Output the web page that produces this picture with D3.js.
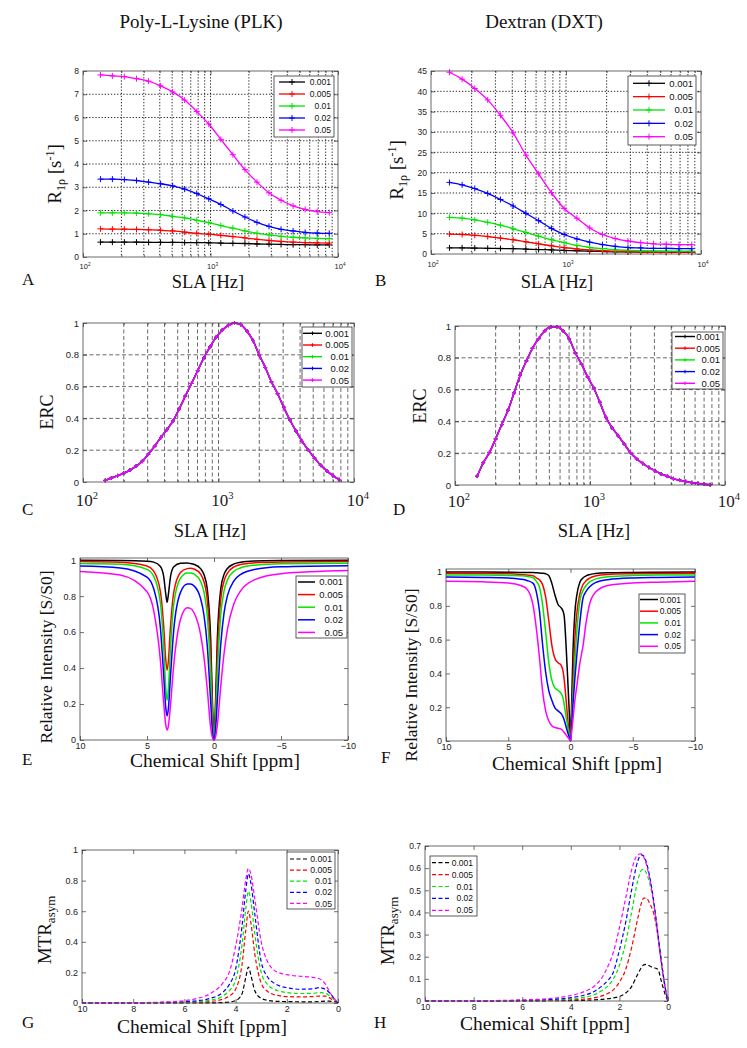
<!DOCTYPE html>
<html>
<head>
<meta charset="utf-8">
<script src="https://cdn.jsdelivr.net/npm/d3@7"></script>
<style>
  body { margin: 0; background: #fff; }
</style>
</head>
<body>
<svg id="fig" width="747" height="1048"></svg>
<script>
// ---- data ----
const concLabels = ["0.001", "0.005", "0.01", "0.02", "0.05"]
const lineColors = ["#000000", "#ff0000", "#00e600", "#0000ff", "#ff00ff"]

// spin-lock amplitude (Hz) for the R1rho panels
const slaHz = [137, 170, 211, 263, 327, 406, 505, 627, 780, 969, 1205, 1498, 1862, 2315, 2877, 3577, 4446, 5527, 6871, 8541]
const r1rhoPLK = [
  [0.64, 0.64, 0.64, 0.64, 0.63, 0.63, 0.63, 0.62, 0.62, 0.61, 0.60, 0.59, 0.58, 0.56, 0.55, 0.54, 0.53, 0.53, 0.52, 0.52],
  [1.21, 1.20, 1.20, 1.19, 1.17, 1.15, 1.12, 1.07, 1.02, 0.98, 0.93, 0.88, 0.82, 0.76, 0.71, 0.67, 0.64, 0.62, 0.61, 0.60],
  [1.90, 1.90, 1.90, 1.89, 1.86, 1.82, 1.75, 1.68, 1.58, 1.48, 1.35, 1.24, 1.12, 1.02, 0.95, 0.89, 0.85, 0.82, 0.80, 0.79],
  [3.35, 3.35, 3.33, 3.29, 3.22, 3.15, 3.06, 2.92, 2.73, 2.50, 2.26, 1.98, 1.72, 1.49, 1.32, 1.19, 1.12, 1.06, 1.03, 1.02],
  [7.83, 7.79, 7.76, 7.67, 7.56, 7.36, 7.10, 6.75, 6.26, 5.72, 5.06, 4.40, 3.76, 3.22, 2.76, 2.44, 2.20, 2.05, 1.95, 1.91]
]
const r1rhoDXT = [
  [1.5, 1.5, 1.45, 1.4, 1.35, 1.3, 1.2, 1.1, 1.0, 0.9, 0.8, 0.7, 0.62, 0.55, 0.5, 0.47, 0.45, 0.44, 0.43, 0.43],
  [4.9, 4.8, 4.6, 4.3, 3.9, 3.5, 3.0, 2.5, 2.0, 1.6, 1.25, 1.0, 0.8, 0.65, 0.55, 0.5, 0.47, 0.45, 0.44, 0.44],
  [9.0, 8.8, 8.4, 7.8, 7.1, 6.2, 5.3, 4.4, 3.5, 2.8, 2.1, 1.6, 1.3, 1.05, 0.9, 0.8, 0.75, 0.72, 0.7, 0.7],
  [17.6, 17.0, 16.1, 14.9, 13.4, 11.8, 10.0, 8.2, 6.3, 4.8, 3.7, 2.9, 2.3, 1.9, 1.6, 1.5, 1.4, 1.4, 1.3, 1.3],
  [44.7, 43.0, 40.7, 37.9, 34.1, 29.8, 24.3, 19.7, 15.1, 11.2, 8.8, 6.4, 4.8, 3.8, 3.2, 2.8, 2.5, 2.4, 2.3, 2.3]
]

// exchange rate contrast, all concentrations collapse onto one curve
const ercHz = [146, 162, 180, 200, 222, 247, 274, 304, 338, 375, 416, 462, 513, 569, 632, 702, 779, 865, 960, 1066,
  1183, 1313, 1458, 1619, 1797, 1995, 2215, 2459, 2730, 3031, 3365, 3736, 4148, 4605, 5112, 5675, 6301, 6995, 7763]
const ercPLK = [0.01, 0.025, 0.04, 0.055, 0.075, 0.10, 0.13, 0.175, 0.225, 0.28, 0.33, 0.385, 0.46, 0.54, 0.62, 0.70, 0.78, 0.85, 0.91, 0.955,
  0.985, 1.0, 0.99, 0.95, 0.89, 0.80, 0.72, 0.63, 0.555, 0.47, 0.39, 0.32, 0.255, 0.20, 0.15, 0.105, 0.07, 0.04, 0.015]
const ercDXT = [0.055, 0.14, 0.205, 0.29, 0.38, 0.47, 0.58, 0.69, 0.78, 0.86, 0.92, 0.97, 0.995, 0.995, 0.97, 0.92, 0.83, 0.76, 0.68, 0.61,
  0.52, 0.425, 0.36, 0.31, 0.257, 0.203, 0.165, 0.135, 0.11, 0.09, 0.07, 0.055, 0.04, 0.03, 0.022, 0.015, 0.01, 0.005, 0.002]

// Z-spectra
const zShiftPLK = [10, 7, 5, 4.5, 4, 3.75, 3.6, 3.5, 3.4, 3.25, 3, 2.5, 2, 1.75, 1.5, 1, 0.75, 0.5, 0.25, 0.1, 0, -0.1, -0.25, -0.5, -0.75, -1, -1.5, -2, -3, -5, -10]
const zPLK = [
  [0.999, 0.998, 0.994, 0.989, 0.965, 0.907, 0.812, 0.766, 0.812, 0.906, 0.963, 0.983, 0.984, 0.981, 0.977, 0.953, 0.92, 0.838, 0.564, 0.171, 0, 0.171, 0.564, 0.838, 0.921, 0.954, 0.979, 0.988, 0.995, 0.998, 1.0],
  [0.992, 0.988, 0.967, 0.939, 0.825, 0.627, 0.446, 0.388, 0.445, 0.626, 0.822, 0.931, 0.953, 0.955, 0.951, 0.922, 0.88, 0.777, 0.473, 0.124, 0, 0.124, 0.474, 0.779, 0.883, 0.927, 0.963, 0.976, 0.985, 0.99, 0.993],
  [0.982, 0.977, 0.949, 0.911, 0.762, 0.511, 0.288, 0.22, 0.287, 0.508, 0.757, 0.90, 0.929, 0.929, 0.923, 0.882, 0.823, 0.69, 0.366, 0.082, 0, 0.088, 0.367, 0.694, 0.829, 0.89, 0.939, 0.958, 0.972, 0.98, 0.983],
  [0.967, 0.957, 0.906, 0.841, 0.624, 0.354, 0.18, 0.134, 0.178, 0.35, 0.615, 0.821, 0.867, 0.868, 0.858, 0.786, 0.696, 0.521, 0.216, 0.034, 0, 0.046, 0.219, 0.528, 0.707, 0.801, 0.886, 0.921, 0.948, 0.963, 0.969],
  [0.937, 0.917, 0.824, 0.719, 0.442, 0.202, 0.084, 0.056, 0.08, 0.191, 0.42, 0.67, 0.735, 0.732, 0.709, 0.586, 0.462, 0.282, 0.07, 0.01, 0, 0.012, 0.084, 0.294, 0.481, 0.614, 0.761, 0.831, 0.89, 0.925, 0.942]
]
const zShiftDXT = [10, 7, 5, 4, 3.5, 3, 2.75, 2.5, 2.25, 2, 1.75, 1.5, 1.25, 1, 0.75, 0.6, 0.5, 0.35, 0.2, 0.1, 0, -0.1, -0.2, -0.35, -0.5, -0.75, -1, -1.25, -1.5, -2, -3, -5, -7, -10]
const zDXT = [
  [1.0, 1.0, 0.999, 0.998, 0.997, 0.997, 0.996, 0.995, 0.993, 0.99, 0.98, 0.933, 0.864, 0.808, 0.788, 0.768, 0.735, 0.557, 0.33, 0.172, 0, 0.25, 0.53, 0.76, 0.86, 0.94, 0.965, 0.977, 0.984, 0.991, 0.996, 0.998, 0.999, 1.0],
  [0.993, 0.992, 0.99, 0.986, 0.982, 0.978, 0.966, 0.954, 0.927, 0.854, 0.716, 0.567, 0.488, 0.463, 0.448, 0.413, 0.36, 0.241, 0.112, 0.053, 0, 0.17, 0.35, 0.6, 0.75, 0.87, 0.925, 0.948, 0.962, 0.977, 0.986, 0.99, 0.992, 0.993],
  [0.983, 0.982, 0.98, 0.978, 0.975, 0.966, 0.946, 0.913, 0.81, 0.646, 0.468, 0.36, 0.314, 0.30, 0.28, 0.255, 0.212, 0.143, 0.074, 0.038, 0, 0.13, 0.28, 0.47, 0.64, 0.83, 0.89, 0.92, 0.94, 0.958, 0.972, 0.979, 0.982, 0.983],
  [0.97, 0.968, 0.965, 0.958, 0.95, 0.933, 0.884, 0.775, 0.577, 0.41, 0.30, 0.241, 0.196, 0.178, 0.162, 0.143, 0.123, 0.083, 0.044, 0.024, 0, 0.1, 0.22, 0.37, 0.5, 0.70, 0.845, 0.885, 0.91, 0.937, 0.955, 0.965, 0.968, 0.97],
  [0.945, 0.942, 0.935, 0.92, 0.9, 0.8, 0.67, 0.5, 0.3, 0.18, 0.12, 0.09, 0.08, 0.075, 0.07, 0.06, 0.05, 0.035, 0.02, 0.01, 0, 0.06, 0.13, 0.24, 0.32, 0.46, 0.56, 0.70, 0.80, 0.88, 0.92, 0.935, 0.94, 0.945]
]

// MTR asymmetry
const mtrShiftPLK = [10, 8, 7, 6, 5.5, 5, 4.5, 4.25, 4, 3.75, 3.6, 3.5, 3.4, 3.25, 3, 2.75, 2.5, 2.25, 2, 1.5, 1, 0.75, 0.5, 0.35, 0.2, 0.1, 0]
const mtrPLK = [
  [0, 0, 0, 0, 0.001, 0.001, 0.003, 0.006, 0.015, 0.06, 0.17, 0.235, 0.18, 0.08, 0.03, 0.018, 0.012, 0.01, 0.009, 0.008, 0.008, 0.009, 0.012, 0.012, 0.01, 0.008, 0],
  [0, 0, 0.001, 0.003, 0.005, 0.01, 0.025, 0.045, 0.09, 0.25, 0.48, 0.6, 0.52, 0.32, 0.13, 0.075, 0.055, 0.047, 0.042, 0.04, 0.042, 0.045, 0.045, 0.035, 0.02, 0.01, 0],
  [0, 0, 0.002, 0.005, 0.009, 0.018, 0.045, 0.08, 0.15, 0.38, 0.62, 0.73, 0.66, 0.45, 0.2, 0.12, 0.09, 0.075, 0.068, 0.062, 0.063, 0.068, 0.065, 0.05, 0.03, 0.012, 0],
  [0, 0.001, 0.003, 0.008, 0.015, 0.03, 0.07, 0.12, 0.22, 0.5, 0.74, 0.845, 0.78, 0.58, 0.27, 0.17, 0.13, 0.11, 0.1, 0.09, 0.092, 0.1, 0.09, 0.07, 0.04, 0.015, 0],
  [0, 0.002, 0.005, 0.015, 0.03, 0.06, 0.13, 0.2, 0.37, 0.62, 0.81, 0.88, 0.84, 0.68, 0.40, 0.27, 0.215, 0.195, 0.185, 0.175, 0.168, 0.16, 0.125, 0.08, 0.04, 0.02, 0]
]
const mtrShiftDXT = [10, 8, 6, 5, 4, 3.5, 3, 2.75, 2.5, 2.25, 2, 1.75, 1.5, 1.25, 1.1, 1, 0.9, 0.75, 0.6, 0.5, 0.4, 0.3, 0.2, 0.1, 0]
const mtrDXT = [
  [0, 0, 0, 0.001, 0.002, 0.003, 0.005, 0.007, 0.01, 0.014, 0.02, 0.035, 0.065, 0.12, 0.15, 0.163, 0.165, 0.158, 0.15, 0.148, 0.14, 0.1, 0.06, 0.025, 0],
  [0, 0, 0.001, 0.002, 0.005, 0.008, 0.015, 0.022, 0.033, 0.05, 0.085, 0.14, 0.24, 0.37, 0.44, 0.465, 0.465, 0.44, 0.4, 0.35, 0.28, 0.2, 0.12, 0.05, 0],
  [0, 0, 0.002, 0.004, 0.01, 0.016, 0.03, 0.045, 0.065, 0.1, 0.16, 0.26, 0.4, 0.54, 0.59, 0.595, 0.58, 0.53, 0.45, 0.37, 0.29, 0.2, 0.12, 0.05, 0],
  [0, 0, 0.003, 0.006, 0.015, 0.025, 0.045, 0.065, 0.09, 0.13, 0.23, 0.35, 0.5, 0.63, 0.66, 0.655, 0.63, 0.56, 0.46, 0.38, 0.29, 0.2, 0.12, 0.05, 0],
  [0, 0.001, 0.005, 0.01, 0.025, 0.04, 0.07, 0.1, 0.15, 0.22, 0.33, 0.46, 0.59, 0.66, 0.665, 0.65, 0.62, 0.55, 0.45, 0.37, 0.28, 0.19, 0.11, 0.05, 0]
]

const logMinor = [200, 300, 400, 500, 600, 700, 800, 900, 2000, 3000, 4000, 5000, 6000, 7000, 8000, 9000]

// ---- drawing ----
const svg = d3.select('#fig')
const sans = '"Liberation Sans", Arial, sans-serif'
const serif = '"Liberation Serif", "Times New Roman", serif'

function plusPath(cx, cy, s) {
  return `M${cx - s},${cy}h${2 * s}M${cx},${cy - s}v${2 * s}`
}

function drawPanel(p) {
  const g = svg.append('g')
  const x = (p.logX ? d3.scaleLog() : d3.scaleLinear()).domain(p.xDomain).range([p.left, p.right])
  const y = d3.scaleLinear().domain(p.yDomain).range([p.bottom, p.top])

  // grid
  if (p.gridDash) {
    const grid = g.append('g')
    grid.selectAll('line.gx').data(p.gridX).join('line')
      .attr('x1', d => x(d)).attr('x2', d => x(d)).attr('y1', p.top).attr('y2', p.bottom)
    grid.selectAll('line.gy').data(p.yTicks.slice(1, -1)).join('line')
      .attr('x1', p.left).attr('x2', p.right).attr('y1', d => y(d)).attr('y2', d => y(d))
    grid.selectAll('line')
      .attr('stroke', p.gridColor).attr('stroke-width', p.gridW).attr('stroke-dasharray', p.gridDash)
  }

  // axes with inward ticks on all sides
  const xFmt = p.powerLabels ? () => '' : d3.format('~g')
  const ax = g.append('g')
  ax.append('g').attr('transform', `translate(0,${p.bottom})`)
    .call(d3.axisBottom(x).tickValues(p.xTicks).tickSize(-4).tickSizeOuter(0).tickPadding(3).tickFormat(xFmt))
  ax.append('g').attr('transform', `translate(0,${p.top})`)
    .call(d3.axisTop(x).tickValues(p.xTicks).tickSize(-4).tickSizeOuter(0).tickFormat(''))
  ax.append('g').attr('transform', `translate(${p.left},0)`)
    .call(d3.axisLeft(y).tickValues(p.yTicks).tickSize(-4).tickSizeOuter(0).tickPadding(4).tickFormat(d3.format('~g')))
  ax.append('g').attr('transform', `translate(${p.right},0)`)
    .call(d3.axisRight(y).tickValues(p.yTicks).tickSize(-4).tickSizeOuter(0).tickFormat(''))
  if (p.logX) {
    ax.append('g').attr('transform', `translate(0,${p.bottom})`)
      .call(d3.axisBottom(x).tickValues(logMinor).tickSize(-2).tickSizeOuter(0).tickFormat(''))
    ax.append('g').attr('transform', `translate(0,${p.top})`)
      .call(d3.axisTop(x).tickValues(logMinor).tickSize(-2).tickSizeOuter(0).tickFormat(''))
  }
  ax.selectAll('.domain').remove()
  ax.selectAll('.tick line').attr('stroke', '#333').attr('stroke-width', 0.7)
  ax.selectAll('.tick text').style('font-family', sans).style('font-size', p.tickFs + 'px').attr('fill', '#222')

  if (p.powerLabels) {
    const pl = p.powerLabels
    p.xTicks.forEach(v => {
      const t = g.append('text').attr('x', x(v) + pl.dx).attr('y', pl.y).attr('text-anchor', 'middle')
        .style('font-family', pl.font).style('font-size', pl.size + 'px').attr('fill', '#222')
      t.append('tspan').text('10')
      t.append('tspan').text(Math.round(Math.log10(v)))
        .attr('dy', -pl.size * 0.42).style('font-size', (pl.size * 0.62) + 'px')
    })
  }

  // series
  const line = d3.line()
    .x((d, i) => x(p.x[i]))
    .y(d => y(d))
    .curve(d3.curveMonotoneX)
  p.ys.forEach((ser, k) => {
    g.append('path')
      .attr('d', line(ser))
      .attr('fill', 'none')
      .attr('stroke', lineColors[k])
      .attr('stroke-width', p.lineW)
      .attr('stroke-dasharray', p.dash || null)
    if (p.marker) {
      g.append('path')
        .attr('d', ser.map((v, i) => plusPath(x(p.x[i]), y(v), p.marker)).join(''))
        .attr('fill', 'none')
        .attr('stroke', lineColors[k])
        .attr('stroke-width', 1)
    }
  })

  // frame
  g.append('rect')
    .attr('x', p.left).attr('y', p.top)
    .attr('width', p.right - p.left).attr('height', p.bottom - p.top)
    .attr('fill', 'none').attr('stroke', '#444').attr('stroke-width', 0.8)

  // legend
  const L = p.legend
  const lg = g.append('g')
  lg.append('rect')
    .attr('x', L.x0).attr('y', L.y0).attr('width', L.x1 - L.x0).attr('height', L.y1 - L.y0)
    .attr('fill', '#fff').attr('stroke', '#333').attr('stroke-width', 0.8)
  concLabels.forEach((lab, i) => {
    const yy = L.r0 + i * L.dy
    lg.append('line')
      .attr('x1', L.lx0).attr('x2', L.lx1).attr('y1', yy).attr('y2', yy)
      .attr('stroke', lineColors[i]).attr('stroke-width', p.lineW)
      .attr('stroke-dasharray', p.dash || null)
    if (p.marker) {
      lg.append('path').attr('d', plusPath((L.lx0 + L.lx1) / 2, yy, p.marker))
        .attr('stroke', lineColors[i]).attr('stroke-width', 1)
    }
    lg.append('text')
      .attr('x', L.tx).attr('y', yy + L.fs * 0.36)
      .attr('text-anchor', 'end')
      .style('font-family', sans).style('font-size', L.fs + 'px').attr('fill', '#111')
      .text(lab)
  })
}

const ticks = (a, b, s) => d3.range(a, b + s / 2, s).map(v => +v.toFixed(2))

drawPanel({
  left: 83, right: 338, top: 71, bottom: 257,
  logX: true, xDomain: [100, 10000], xTicks: [100, 1000, 10000],
  yDomain: [0, 8], yTicks: ticks(0, 8, 1),
  gridX: logMinor.concat([1000]), gridDash: '1.3,1.8', gridColor: '#111', gridW: 0.9,
  powerLabels: { size: 7.5, y: 269, font: sans, dx: 2 },
  x: slaHz, ys: r1rhoPLK, lineW: 1.3, marker: 3, tickFs: 8.5,
  legend: { x0: 274, y0: 76, x1: 334, y1: 137, r0: 82, dy: 12, lx0: 279, lx1: 305, tx: 331, fs: 8.5 }
})
drawPanel({
  left: 431, right: 701, top: 71, bottom: 254,
  logX: true, xDomain: [100, 10000], xTicks: [100, 1000, 10000],
  yDomain: [0, 45], yTicks: ticks(0, 45, 5),
  gridX: logMinor.concat([1000]), gridDash: '1.3,1.8', gridColor: '#111', gridW: 0.9,
  powerLabels: { size: 7.5, y: 267, font: sans, dx: 2 },
  x: slaHz, ys: r1rhoDXT, lineW: 1.3, marker: 3, tickFs: 8.5,
  legend: { x0: 628, y0: 76, x1: 696, y1: 145, r0: 83.3, dy: 13.35, lx0: 633, lx1: 665, tx: 693, fs: 9.5 }
})
drawPanel({
  left: 83, right: 354, top: 323, bottom: 482,
  logX: true, xDomain: [100, 10000], xTicks: [100, 1000, 10000],
  yDomain: [0, 1], yTicks: ticks(0, 1, 0.2),
  gridX: logMinor.concat([1000]), gridDash: '4,2.5', gridColor: '#444', gridW: 0.8,
  powerLabels: { size: 17, y: 506, font: serif, dx: 4 },
  x: ercHz, ys: [ercPLK, ercPLK, ercPLK, ercPLK, ercPLK], lineW: 1.4, marker: 1.8, tickFs: 9.5,
  legend: { x0: 302, y0: 327, x1: 352, y1: 387, r0: 333.3, dy: 11.7, lx0: 303, lx1: 322, tx: 349, fs: 9.5 }
})
drawPanel({
  left: 455, right: 725, top: 326, bottom: 485,
  logX: true, xDomain: [100, 10000], xTicks: [100, 1000, 10000],
  yDomain: [0, 1], yTicks: ticks(0, 1, 0.2),
  gridX: logMinor.concat([1000]), gridDash: '4,2.5', gridColor: '#444', gridW: 0.8,
  powerLabels: { size: 17, y: 507, font: serif, dx: 4 },
  x: ercHz, ys: [ercDXT, ercDXT, ercDXT, ercDXT, ercDXT], lineW: 1.4, marker: 1.8, tickFs: 9.5,
  legend: { x0: 672, y0: 332, x1: 723, y1: 389, r0: 336.5, dy: 11.7, lx0: 675, lx1: 695, tx: 720, fs: 9.5 }
})
drawPanel({
  left: 80, right: 348, top: 558, bottom: 740,
  xDomain: [10, -10], xTicks: [10, 5, 0, -5, -10],
  yDomain: [0, 1.012], yTicks: ticks(0, 1, 0.2),
  x: zShiftPLK, ys: zPLK, lineW: 1.5, tickFs: 9,
  legend: { x0: 296, y0: 576, x1: 347, y1: 638, r0: 582, dy: 12.6, lx0: 298, lx1: 315, tx: 343, fs: 9.5 }
})
drawPanel({
  left: 446, right: 695, top: 569, bottom: 741,
  xDomain: [10, -10], xTicks: [10, 5, 0, -5, -10],
  yDomain: [0, 1.018], yTicks: ticks(0, 1, 0.2),
  x: zShiftDXT, ys: zDXT, lineW: 1.5, tickFs: 9,
  legend: { x0: 639, y0: 594, x1: 685, y1: 653, r0: 599.5, dy: 11.7, lx0: 640, lx1: 658, tx: 681, fs: 8.5 }
})
drawPanel({
  left: 82, right: 338, top: 850, bottom: 1003,
  xDomain: [10, 0], xTicks: [10, 8, 6, 4, 2, 0],
  yDomain: [0, 1], yTicks: ticks(0, 1, 0.2),
  x: mtrShiftPLK, ys: mtrPLK, lineW: 1.2, dash: '4,2.5', tickFs: 9,
  legend: { x0: 287, y0: 852, x1: 335, y1: 909, r0: 859, dy: 11.1, lx0: 290, lx1: 308, tx: 332, fs: 8.7 }
})
drawPanel({
  left: 425, right: 668, top: 846, bottom: 1001,
  xDomain: [10, 0], xTicks: [10, 8, 6, 4, 2, 0],
  yDomain: [0, 0.7], yTicks: ticks(0, 0.7, 0.1),
  x: mtrShiftDXT, ys: mtrDXT, lineW: 1.2, dash: '4,2.5', tickFs: 8.5,
  legend: { x0: 430, y0: 856, x1: 477, y1: 916, r0: 862.7, dy: 11.9, lx0: 432, lx1: 450, tx: 473, fs: 8.5 }
})

// ---- titles, axis labels, panel letters ----
function label(x, y, txt, size, opts = {}) {
  const t = svg.append('text')
    .attr('text-anchor', opts.anchor || 'middle')
    .attr('transform', `translate(${x},${y})` + (opts.rotate ? ' rotate(-90)' : ''))
    .style('font-family', serif).style('font-size', size + 'px').attr('fill', '#111')
  if (typeof txt === 'string') t.text(txt)
  else txt.forEach(part => {
    t.append('tspan').text(part.t)
      .attr('dy', part.dy || 0)
      .style('font-size', (part.s || size) + 'px')
  })
  return t
}

label(201, 28, 'Poly-L-Lysine (PLK)', 19)
label(544, 28, 'Dextran (DXT)', 19)

const r1rhoLabel = [{ t: 'R' }, { t: '1ρ', s: 12, dy: 4 }, { t: ' [s', dy: -4 }, { t: '-1', s: 12, dy: -7 }, { t: ']', dy: 7 }]
label(61, 174, r1rhoLabel, 19, { rotate: true })
label(403, 170, r1rhoLabel, 19, { rotate: true })
label(208, 288, 'SLA [Hz]', 18.5)
label(557, 288, 'SLA [Hz]', 18.5)

label(53, 412, 'ERC', 18, { rotate: true })
label(426, 406, 'ERC', 18, { rotate: true })
label(210, 537, 'SLA [Hz]', 18.5)
label(594, 537, 'SLA [Hz]', 18.5)

label(52, 657, 'Relative Intensity [S/S0]', 17.5, { rotate: true })
label(417, 675, 'Relative Intensity [S/S0]', 17.5, { rotate: true })
label(215, 767, 'Chemical Shift [ppm]', 19.5)
label(577, 770, 'Chemical Shift [ppm]', 19.5)

const mtrLabel = [{ t: 'MTR' }, { t: 'asym', s: 13, dy: 4 }]
label(51, 930, mtrLabel, 19, { rotate: true })
label(394, 931, mtrLabel, 19, { rotate: true })
label(202, 1033, 'Chemical Shift [ppm]', 19.5)
label(545, 1030, 'Chemical Shift [ppm]', 19.5)

const letters = [['A', 22, 285], ['B', 375, 286], ['C', 22, 515], ['D', 393, 515],
  ['E', 22, 765], ['F', 381, 763], ['G', 22, 1028], ['H', 374, 1028]]
letters.forEach(([t, lx, ly]) => label(lx, ly, t, 17, { anchor: 'start' }))
</script>
</body>
</html>
